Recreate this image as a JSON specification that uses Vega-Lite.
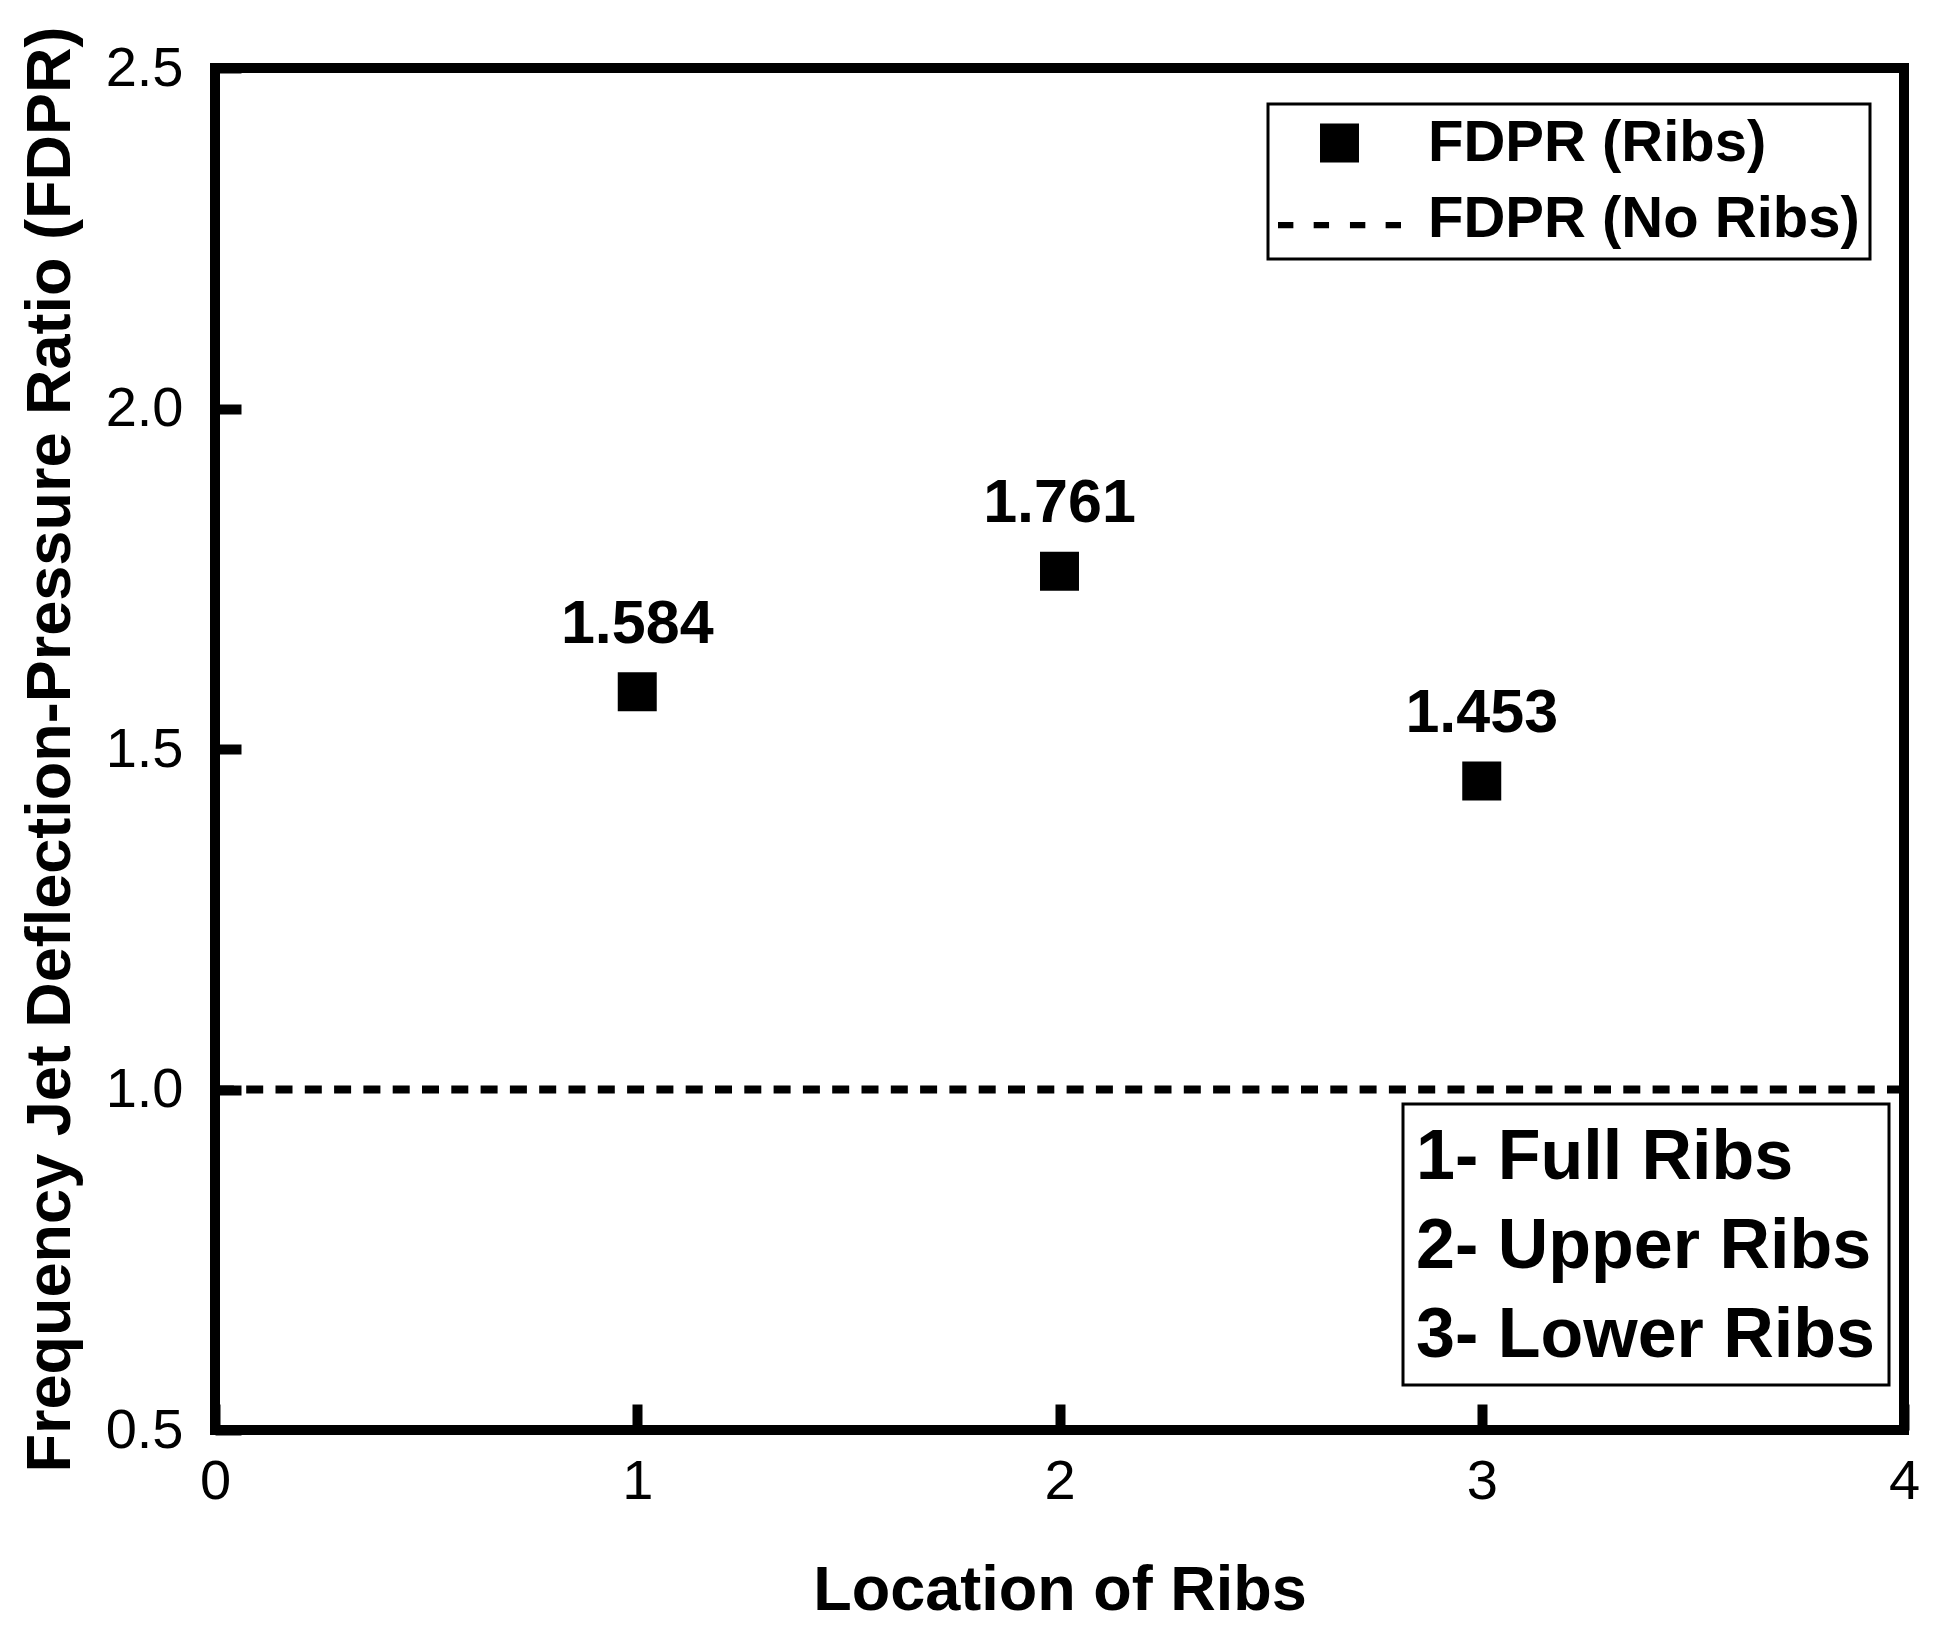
{
  "$schema": "https://vega.github.io/schema/vega-lite/v6.json",
  "width": 1689,
  "height": 1362,
  "autosize": {"type": "none"},
  "padding": {"left": 215, "top": 68, "right": 34, "bottom": 200},
  "background": "white",
  "config": {
    "view": {"stroke": "black", "strokeWidth": 10},
    "font": "Liberation Sans",
    "axis": {
      "domain": false,
      "grid": false,
      "ticks": true,
      "tickColor": "black",
      "tickWidth": 10,
      "tickSize": -26,
      "labelFont": "Liberation Sans",
      "labelFontSize": 56,
      "labelColor": "black",
      "labelFlush": false,
      "labelOverlap": false,
      "titleFont": "Liberation Sans",
      "titleFontSize": 63,
      "titleFontWeight": "bold",
      "titleColor": "black"
    }
  },
  "layer": [
    {
      "data": {"values": [{"fdpr": 1.0, "series": "FDPR (No Ribs)"}]},
      "mark": {"type": "rule", "strokeDash": [17, 12.3], "strokeWidth": 8, "color": "black"},
      "encoding": {
        "y": {"field": "fdpr", "type": "quantitative"}
      }
    },
    {
      "data": {"values": [
        {"location": 1, "fdpr": 1.584, "series": "FDPR (Ribs)", "rib": "1- Full Ribs"},
        {"location": 2, "fdpr": 1.761, "series": "FDPR (Ribs)", "rib": "2- Upper Ribs"},
        {"location": 3, "fdpr": 1.453, "series": "FDPR (Ribs)", "rib": "3- Lower Ribs"}
      ]},
      "mark": {"type": "point", "filled": true, "size": 15129, "opacity": 1, "strokeWidth": 0},
      "encoding": {
        "x": {
          "field": "location", "type": "quantitative",
          "scale": {"domain": [0, 4], "nice": false, "zero": false},
          "axis": {"values": [0, 1, 2, 3, 4], "format": "d", "labelPadding": 50, "title": "Location of Ribs", "titlePadding": 50}
        },
        "y": {
          "field": "fdpr", "type": "quantitative",
          "scale": {"domain": [0.5, 2.5], "nice": false, "zero": false},
          "axis": {"values": [0.5, 1.0, 1.5, 2.0, 2.5], "format": ".1f", "labelPadding": 58, "title": "Frequency Jet Deflection-Pressure Ratio (FDPR)", "titlePadding": 23}
        },
        "shape": {
          "field": "series", "type": "nominal",
          "scale": {
            "domain": ["FDPR (Ribs)", "FDPR (No Ribs)"],
            "range": [
              "M-0.317,-0.317H0.317V0.317H-0.317Z",
              "M-1,0.05H-0.75V0.15H-1Z M-0.42,0.05H-0.17V0.15H-0.42Z M0.17,0.05H0.42V0.15H0.17Z M0.75,0.05H1V0.15H0.75Z"
            ]
          },
          "legend": {
            "title": null,
            "orient": "none",
            "legendX": 1053,
            "legendY": 36,
            "direction": "vertical",
            "strokeColor": "black",
            "padding": 10,
            "symbolSize": 15129,
            "symbolFillColor": "black",
            "symbolStrokeWidth": 0,
            "symbolOpacity": 1,
            "labelFont": "Liberation Sans",
            "labelFontSize": 58,
            "labelFontWeight": "bold",
            "labelColor": "black",
            "labelOffset": 27,
            "labelLimit": 1000,
            "rowPadding": 17,
            "clipHeight": 58,
            "encode": {
              "legend": {"update": {"strokeWidth": {"value": 3}}},
              "symbols": {"update": {"fill": {"value": "black"}, "opacity": {"value": 1}}},
              "labels": {"update": {"dy": {"value": 1}}}
            }
          }
        },
        "color": {
          "field": "rib", "type": "nominal",
          "scale": {"range": ["black", "black", "black"]},
          "legend": {
            "title": null,
            "orient": "none",
            "legendX": 1188,
            "legendY": 1036,
            "direction": "vertical",
            "strokeColor": "black",
            "padding": 14,
            "symbolSize": 0,
            "symbolStrokeWidth": 0,
            "symbolOpacity": 0,
            "labelFont": "Liberation Sans",
            "labelFontSize": 70,
            "labelFontWeight": "bold",
            "labelColor": "black",
            "labelOffset": -71,
            "labelLimit": 1000,
            "rowPadding": 14,
            "clipHeight": 70,
            "encode": {
              "legend": {"update": {"strokeWidth": {"value": 3}}},
              "labels": {"update": {"dy": {"value": 5}}}
            }
          }
        }
      }
    },
    {
      "data": {"values": [
        {"location": 1, "fdpr": 1.584},
        {"location": 2, "fdpr": 1.761},
        {"location": 3, "fdpr": 1.453}
      ]},
      "mark": {"type": "text", "font": "Liberation Sans", "fontSize": 61, "fontWeight": "bold", "baseline": "alphabetic", "align": "center", "dy": -49, "color": "black"},
      "encoding": {
        "x": {"field": "location", "type": "quantitative"},
        "y": {"field": "fdpr", "type": "quantitative"},
        "text": {"field": "fdpr", "type": "quantitative", "format": ".3f"}
      }
    }
  ]
}
